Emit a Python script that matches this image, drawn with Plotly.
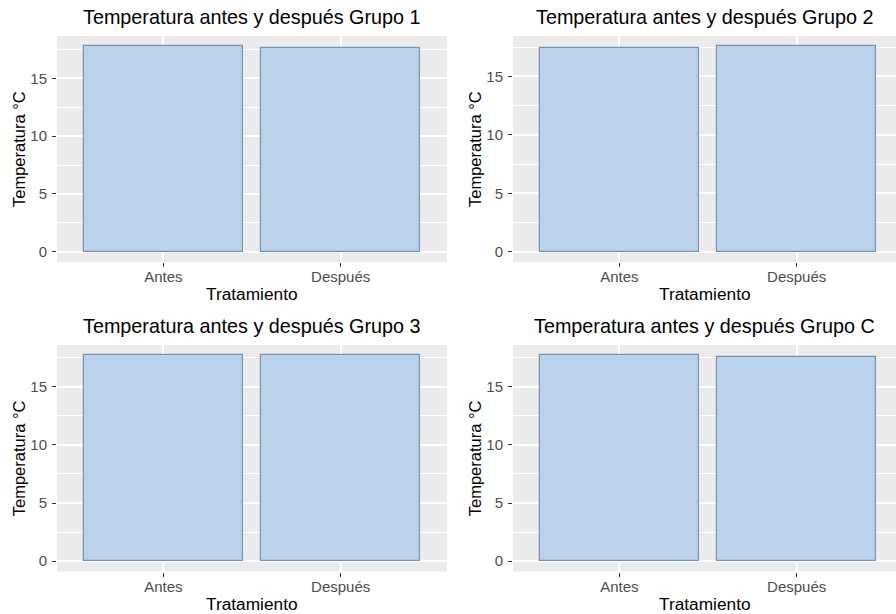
import plotly.graph_objects as go

# Data: mean temperature (°C) before and after treatment, per group
tratamientos = ["Antes", "Después"]
grupos = ["Grupo 1", "Grupo 2", "Grupo 3", "Grupo C"]
temp_grupo_1 = [17.78, 17.67]
temp_grupo_2 = [17.47, 17.58]
temp_grupo_3 = [17.69, 17.69]
temp_grupo_c = [17.69, 17.52]
y_ticks = [0, 5, 10, 15]

series = [temp_grupo_1, temp_grupo_2, temp_grupo_3, temp_grupo_c]

W, H = 896, 614
FONT = "Arial, Liberation Sans, Helvetica, sans-serif"
PANEL_BG = "#EBEBEB"
BAR_FILL = "#BAD3EA"
BAR_LINE = "#7592B8"

# Panel boxes in pixels: (left, right, top, bottom)
panels = [
    (57, 447, 36, 262),
    (513, 896, 36, 262),
    (57, 447, 345, 571.5),
    (513, 896, 345, 571.5),
]
cat_step = 177.3  # pixel spacing between category centres

fig = go.Figure()
annotations = []

for i, (vals, grupo, (l, r, t, b)) in enumerate(zip(series, grupos, panels)):
    n = i + 1
    xa = "x" if n == 1 else f"x{n}"
    ya = "y" if n == 1 else f"y{n}"
    fig.add_trace(go.Bar(
        x=tratamientos, y=vals, width=0.9,
        marker=dict(color=BAR_FILL, line=dict(color=BAR_LINE, width=1.2)),
        xaxis=xa, yaxis=ya, showlegend=False, hoverinfo="x+y",
    ))
    m = max(vals)
    x_hi = -0.6 + (r - l) / cat_step
    xkey = "xaxis" if n == 1 else f"xaxis{n}"
    ykey = "yaxis" if n == 1 else f"yaxis{n}"
    fig.layout[xkey] = dict(
        domain=[l / W, r / W], anchor=ya, type="category",
        range=[-0.6, x_hi], showgrid=True, gridcolor="white", gridwidth=1.5,
        ticks="outside", ticklen=4, tickcolor="#333333", tickwidth=1,
        ticklabelstandoff=-3,
        tickfont=dict(family=FONT, size=15, color="#4D4D4D"),
        showline=False, zeroline=False, fixedrange=True,
    )
    fig.layout[ykey] = dict(
        domain=[1 - b / H, 1 - t / H], anchor=xa,
        range=[-0.05 * m, 1.05 * m], tickmode="array", tickvals=y_ticks,
        showgrid=True, gridcolor="white", gridwidth=1.5,
        minor=dict(showgrid=True, gridcolor="white", gridwidth=0.7,
                   tickmode="array", tickvals=[2.5, 7.5, 12.5, 17.5]),
        ticks="outside", ticklen=4, tickcolor="#333333", tickwidth=1,
        ticklabelstandoff=2,
        tickfont=dict(family=FONT, size=15, color="#4D4D4D"),
        showline=False, zeroline=False, fixedrange=True,
    )
    cx = (l + min(r, l + 2.2 * cat_step)) / 2
    # panel title
    annotations.append(dict(
        text=f"Temperatura antes y después {grupo}", xref="paper", yref="paper",
        x=cx / W, y=1 - (t - 19) / H, xanchor="center", yanchor="middle",
        showarrow=False, font=dict(family=FONT, size=19.8, color="black"),
    ))
    # x-axis title
    annotations.append(dict(
        text="Tratamiento", xref="paper", yref="paper",
        x=cx / W, y=1 - (b + 32) / H, xanchor="center", yanchor="middle",
        showarrow=False, font=dict(family=FONT, size=17.3, color="black"),
    ))
    # y-axis title
    annotations.append(dict(
        text="Temperatura °C", xref="paper", yref="paper",
        x=(l - 38) / W, y=1 - ((t + b) / 2 + 0) / H, xanchor="center", yanchor="middle",
        textangle=-90, showarrow=False, font=dict(family=FONT, size=16.5, color="black"),
    ))

fig.update_layout(
    width=W, height=H, margin=dict(l=0, r=0, t=0, b=0),
    paper_bgcolor="white", plot_bgcolor=PANEL_BG,
    annotations=annotations, bargap=0,
)

fig.write_html("out.html", config={"displayModeBar": False})
